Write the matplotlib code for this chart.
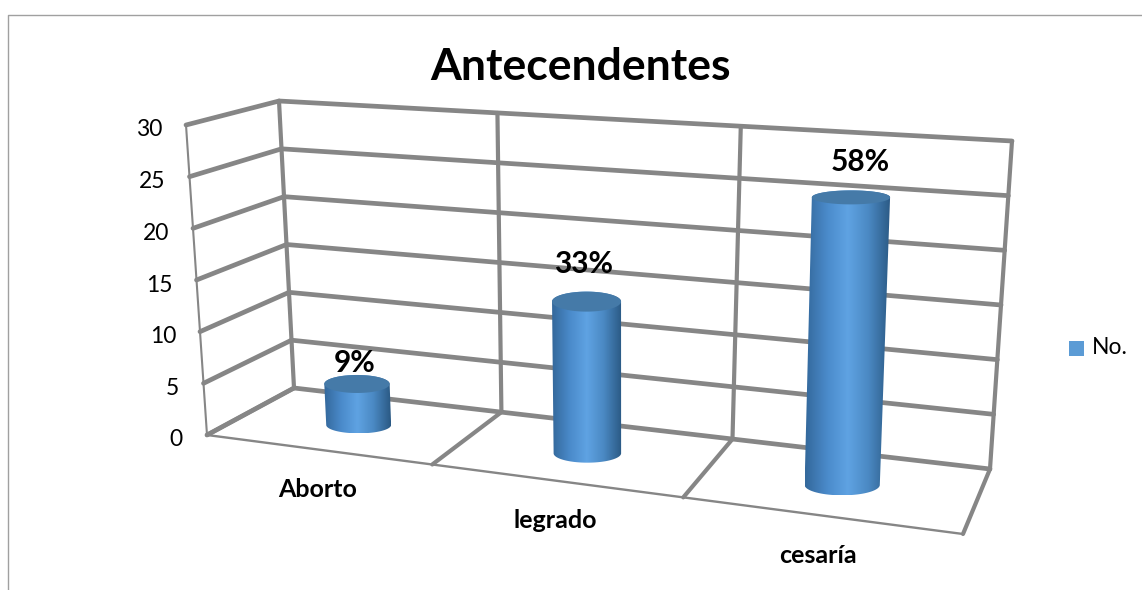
import matplotlib

matplotlib.use("Agg")

import matplotlib.pyplot as plt
import numpy as np
from matplotlib.colors import LinearSegmentedColormap
from matplotlib.patches import Polygon, Rectangle

plt.rcParams["font.family"] = ["Lato", "DejaVu Sans"]

TITLE = "Antecendentes"
CATEGORIES = ["Aborto", "legrado", "cesaría"]
VALUES = [4, 14, 25]
PERCENT_LABELS = ["9%", "33%", "58%"]
VALUE_TICKS = [0, 5, 10, 15, 20, 25, 30]
LEGEND_LABEL = "No."

GRID = "#868686"
BAR_COLOR = "#5b9bd5"
TOP_COLOR = "#457aa8"
BAR_SHADE = LinearSegmentedColormap.from_list(
    "bar", ["#34699c", "#4a8aca", "#5fa3e3", "#4a88c2", "#2b5a85"]
)

# corners of the 3d box in image pixels: (x, depth, value)
CORNERS = {
    (0, 0, 0): (207, 435),
    (0, 0, 1): (186, 125),
    (0, 1, 0): (294, 388),
    (0, 1, 1): (279, 101),
    (1, 0, 0): (963, 534),
    (1, 0, 1): (975, 151),
    (1, 1, 0): (990, 469),
    (1, 1, 1): (1012, 141),
}
CATEGORY_EDGES = [0, 0.298, 0.63, 1]
VALUE_MAX = VALUE_TICKS[-1]

BAR_HALF_WIDTH = [0.15, 0.14, 0.14]
TOP_HALF_DEPTH = [9, 10, 7]


def project(cat, depth, value):
    u = np.interp(cat, range(len(CATEGORY_EDGES)), CATEGORY_EDGES)
    v = value / VALUE_MAX
    total = np.zeros(2)
    for (a, b, c), corner in CORNERS.items():
        weight = (u if a else 1 - u) * (depth if b else 1 - depth) * (v if c else 1 - v)
        total += weight * np.array(corner)
    return total


def box_line(axis, start, end, width):
    p, q = project(*start), project(*end)
    axis.plot([p[0], q[0]], [p[1], q[1]], color=GRID, lw=width, zorder=2,
              solid_capstyle="round")


def draw_box(axis):
    for tick in VALUE_TICKS:
        box_line(axis, (0, 0, tick), (0, 1, tick), 3.4)
        box_line(axis, (0, 1, tick), (3, 1, tick), 3.4)
    for cat in range(len(CATEGORY_EDGES)):
        box_line(axis, (cat, 1, 0), (cat, 1, VALUE_MAX), 3.0)
        box_line(axis, (cat, 0, 0), (cat, 1, 0), 3.0)
    box_line(axis, (0, 0, 0), (0, 0, VALUE_MAX), 1.5)
    box_line(axis, (0, 0, 0), (3, 0, 0), 1.7)


def ellipse(center, half_w, half_h, start=0.0, stop=2 * np.pi):
    angles = np.linspace(start, stop, 80)
    return np.column_stack(
        [center[0] + half_w * np.cos(angles), center[1] + half_h * np.sin(angles)]
    )


def draw_cylinder(axis, cat, value):
    mid = cat + 0.5
    reach = BAR_HALF_WIDTH[cat]
    shape = []
    for level in (0, value):
        center = project(mid, 0.5, level)
        half_w = (project(mid + reach, 0.5, level) - project(mid - reach, 0.5, level))[0] / 2
        half_h = 0.17 * (project(mid, 0, level) - project(mid, 1, level))[1]
        shape.append((center, half_w, half_h))
    bottom, top = shape
    top = (top[0], top[1], TOP_HALF_DEPTH[cat])

    # body: lower half of the base ellipse, then back up along the top one
    outline = np.vstack(
        [ellipse(*bottom, 0, np.pi), ellipse(*top, np.pi, 2 * np.pi)]
    )
    clip = Polygon(outline, closed=True, transform=axis.transData, facecolor="none",
                   edgecolor="none")
    axis.add_patch(clip)
    x0, x1 = outline[:, 0].min(), outline[:, 0].max()
    y0, y1 = outline[:, 1].min(), outline[:, 1].max()
    image = axis.imshow(
        np.linspace(0, 1, 64)[None, :], cmap=BAR_SHADE, extent=(x0, x1, y1, y0),
        aspect="auto", zorder=3, interpolation="bilinear",
    )
    image.set_clip_path(clip)
    axis.add_patch(Polygon(ellipse(*top), closed=True, facecolor=TOP_COLOR,
                           edgecolor="none", zorder=4))
    return top


fig = plt.figure(figsize=(11.42, 5.9), dpi=100)
ax = fig.add_axes([0, 0, 1, 1])

draw_box(ax)

LABEL_LIFT = [21, 38, 35]
LABEL_SHIFT = [-2, -3, 9]
for index, value in enumerate(VALUES):
    top_center, _, _ = draw_cylinder(ax, index, value)
    ax.text(top_center[0] + LABEL_SHIFT[index], top_center[1] - LABEL_LIFT[index],
            PERCENT_LABELS[index], ha="center", va="center", fontsize=21.5,
            fontweight="bold", color="black", zorder=5)

for tick in VALUE_TICKS:
    x, y = project(0, 0, tick)
    ax.text(x - 24, y + 5, str(tick), ha="right", va="center", fontsize=16.5, color="black")

CATEGORY_DX = [-2, -3, -5]
for index, name in enumerate(CATEGORIES):
    x, y = project(index + 0.5, 0, 0)
    ax.text(x + CATEGORY_DX[index], y + 40, name, ha="center", va="center", fontsize=18,
            fontweight="bold", color="black")

ax.text(581, 67, TITLE, ha="center", va="center", fontsize=32, fontweight="bold", color="black")

ax.add_patch(Rectangle((1069, 341), 15, 15, facecolor=BAR_COLOR, edgecolor="none"))
ax.text(1092, 348, LEGEND_LABEL, ha="left", va="center", fontsize=16.5, color="black")

# chart frame, cut off by the crop on the right and bottom
ax.plot([8, 8, 1142], [590, 14.5, 14.5], color="#a0a0a0", lw=1.0)

ax.set_xlim(0, 1142)
ax.set_ylim(590, 0)
ax.axis("off")
fig.savefig("out.png", dpi=100)
plt.close(fig)
